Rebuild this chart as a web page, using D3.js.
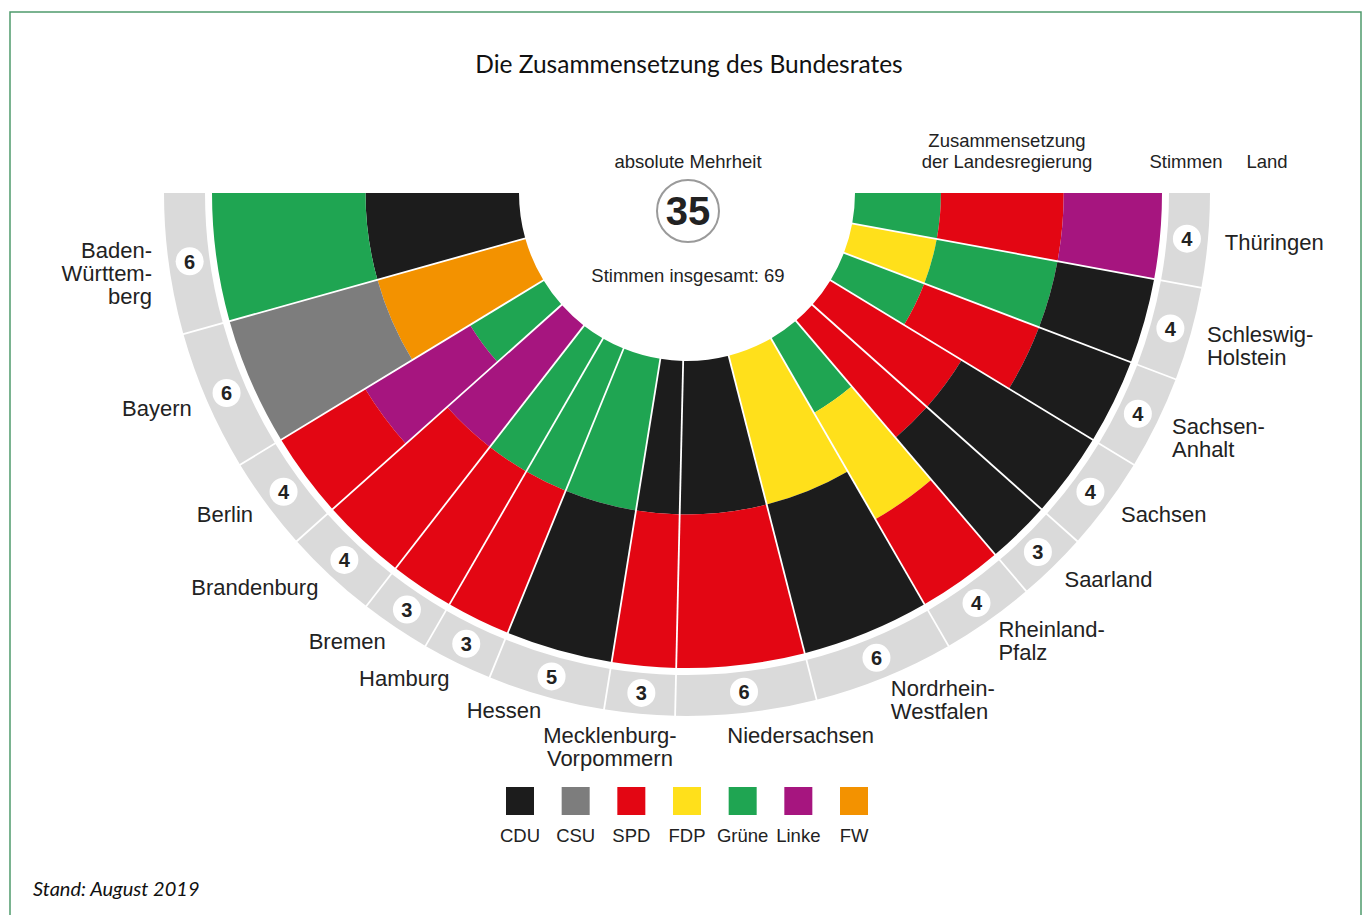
<!DOCTYPE html>
<html>
<head>
<meta charset="utf-8">
<script src="https://cdn.jsdelivr.net/npm/d3@7"></script>
<style>
  body { margin:0; background:#fff; }
  svg { display:block; }
  .lbl { font-family:"Liberation Sans", Arial, sans-serif; fill:#222; }
</style>
</head>
<body>
<svg id="chart" width="1363" height="915"></svg>
<script>
// data: Bundesrat, Stand August 2019
const laender = ["Baden-Württemberg","Bayern","Berlin","Brandenburg","Bremen","Hamburg","Hessen",
  "Mecklenburg-Vorpommern","Niedersachsen","Nordrhein-Westfalen","Rheinland-Pfalz","Saarland",
  "Sachsen","Sachsen-Anhalt","Schleswig-Holstein","Thüringen"];
const laenderZeilen = [["Baden-","Württem-","berg"],["Bayern"],["Berlin"],["Brandenburg"],["Bremen"],["Hamburg"],["Hessen"],
  ["Mecklenburg-","Vorpommern"],["Niedersachsen"],["Nordrhein-","Westfalen"],["Rheinland-","Pfalz"],["Saarland"],
  ["Sachsen"],["Sachsen-","Anhalt"],["Schleswig-","Holstein"],["Thüringen"]];
const stimmen = [6,6,4,4,3,3,5,3,6,6,4,3,4,4,4,4];
// Landesregierung, von innen nach außen
const regierung = [
  ["CDU","Grüne"], ["FW","CSU"], ["Grüne","Linke","SPD"], ["Linke","SPD"], ["Grüne","SPD"], ["Grüne","SPD"],
  ["Grüne","CDU"], ["CDU","SPD"], ["CDU","SPD"], ["FDP","CDU"], ["Grüne","FDP","SPD"], ["SPD","CDU"],
  ["SPD","CDU"], ["Grüne","SPD","CDU"], ["FDP","Grüne","CDU"], ["Grüne","SPD","Linke"]
];
const parteien = ["CDU","CSU","SPD","FDP","Grüne","Linke","FW"];
const parteiFarben = ["#1c1c1c","#7d7d7d","#e30613","#ffe01b","#1fa552","#a6157f","#f39200"];
const gesamt = 69, mehrheit = 35;

// layout
const cx = 687, cy = 193;
const rIn = 168, rOut = 475, ringIn = 482, ringOut = 523, numR = 502, labelR = 540;
const bandSplit = {2:[0,0.5,1], 3:[0,0.28,0.68,1]};
const labelNudge = {"Mecklenburg-Vorpommern":{dx:-28,dy:9}, "Niedersachsen":{dx:-21,dy:6}, "Hessen":{dx:0,dy:-3}};

const svg = d3.select('#chart');
const color = d3.scaleOrdinal().domain(parteien).range(parteiFarben);
const angle = d3.scaleLinear().domain([0, gesamt]).range([-Math.PI/2, -3*Math.PI/2]);
const radial = d3.scaleLinear().domain([0,1]).range([rIn, rOut]);
const arc = d3.arc();

// frame
svg.append('path')
  .attr('d','M10,915 L10,12 L1361,12 L1361,915')
  .attr('fill','none').attr('stroke','#4f9a6c').attr('stroke-width',1.5);

svg.append('text')
  .attr('x',689).attr('y',73).attr('text-anchor','middle')
  .style('font-family','Lato, "Open Sans", sans-serif').style('font-size','24.5px').attr('fill','#111')
  .text('Die Zusammensetzung des Bundesrates');

// cumulative positions
let cum = 0;
const sektoren = laender.map((name,i) => {
  const s = {name, i, v:stimmen[i], a0:angle(cum), a1:angle(cum+stimmen[i])};
  cum += stimmen[i];
  s.mid = (s.a0+s.a1)/2;
  return s;
});

const g = svg.append('g').attr('transform',`translate(${cx},${cy})`);

// grey ring
g.selectAll('.ring').data(sektoren).join('path')
  .attr('class','ring')
  .attr('d', d => arc({innerRadius:ringIn, outerRadius:ringOut, startAngle:d.a0, endAngle:d.a1}))
  .attr('fill','#dadada');

// party bands
sektoren.forEach(s => {
  const parts = regierung[s.i];
  const split = bandSplit[parts.length];
  g.selectAll(null).data(parts).join('path')
    .attr('d', (p,j) => arc({innerRadius:radial(split[j]), outerRadius:radial(split[j+1]), startAngle:s.a0, endAngle:s.a1}))
    .attr('fill', p => color(p));
});

// separators between states
const grenzen = sektoren.slice(1).map(s => s.a0);
const pt = (a,r) => [r*Math.sin(a), -r*Math.cos(a)];
g.selectAll('.sep').data(grenzen).join('line')
  .attr('class','sep')
  .attr('x1', a => pt(a,rIn-2)[0]).attr('y1', a => pt(a,rIn-2)[1])
  .attr('x2', a => pt(a,ringOut+2)[0]).attr('y2', a => pt(a,ringOut+2)[1])
  .attr('stroke','#fff').attr('stroke-width',1.8);

// vote numbers
const num = g.selectAll('.num').data(sektoren).join('g')
  .attr('class','num')
  .attr('transform', d => `translate(${pt(d.mid,numR)})`);
num.append('circle').attr('r',14).attr('fill','#fff');
num.append('text').attr('class','lbl')
  .attr('text-anchor','middle').attr('dy','0.36em')
  .style('font-size','20px').style('font-weight','bold')
  .text(d => d.v);

// state labels
const deg = a => -a*180/Math.PI - 90; // 0 = left, 180 = right
g.selectAll('.land').data(sektoren).join('text')
  .attr('class','lbl land')
  .style('font-size','22px')
  .attr('text-anchor', d => deg(d.mid) < 80 ? 'end' : (deg(d.mid) < 90 ? 'middle' : 'start'))
  .each(function(d){
    const zeilen = laenderZeilen[d.i];
    const n = zeilen.length, lh = 23;
    const nud = labelNudge[d.name] || {dx:0,dy:0};
    const [x,y] = pt(d.mid,labelR);
    const y0 = y - (n-1)*lh/2 + (n>1 ? 7 : 0) + nud.dy;
    d3.select(this).selectAll('tspan').data(zeilen).join('tspan')
      .attr('x', x + nud.dx)
      .attr('y', (z,k) => y0 + k*lh)
      .attr('dy','0.35em')
      .text(z => z);
  });

// centre texts
const head = svg.append('g').attr('class','lbl').style('font-size','18.5px').attr('fill','#333');
head.append('text').attr('x',688).attr('y',168).attr('text-anchor','middle').text('absolute Mehrheit');
head.append('text').attr('x',688).attr('y',282).attr('text-anchor','middle').text('Stimmen insgesamt: ' + gesamt);
head.append('text').attr('x',1007).attr('y',147).attr('text-anchor','middle').text('Zusammensetzung');
head.append('text').attr('x',1007).attr('y',168).attr('text-anchor','middle').text('der Landesregierung');
head.append('text').attr('x',1186).attr('y',168).attr('text-anchor','middle').text('Stimmen');
head.append('text').attr('x',1267).attr('y',168).attr('text-anchor','middle').text('Land');

svg.append('circle').attr('cx',688).attr('cy',211).attr('r',31)
  .attr('fill','#fff').attr('stroke','#9a9a9a').attr('stroke-width',2);
svg.append('text').attr('class','lbl')
  .attr('x',688).attr('y',211).attr('dy','0.36em').attr('text-anchor','middle')
  .style('font-size','40px').style('font-weight','bold').attr('fill','#111')
  .text(mehrheit);

// legend
const lx = d3.scalePoint().domain(parteien).range([520, 854]);
const leg = svg.selectAll('.leg').data(parteien).join('g')
  .attr('class','leg')
  .attr('transform', p => `translate(${lx(p)},0)`);
leg.append('rect').attr('x',-14).attr('y',787).attr('width',28).attr('height',28)
  .attr('fill', p => color(p));
leg.append('text').attr('class','lbl')
  .attr('y',842).attr('text-anchor','middle')
  .style('font-size','18.5px').attr('fill','#333')
  .text(p => p);

svg.append('text')
  .attr('x',33).attr('y',896)
  .style('font-family','Lato, "Open Sans", sans-serif').style('font-size','20px').style('font-style','italic')
  .attr('fill','#111')
  .text('Stand: August 2019');
</script>
</body>
</html>
